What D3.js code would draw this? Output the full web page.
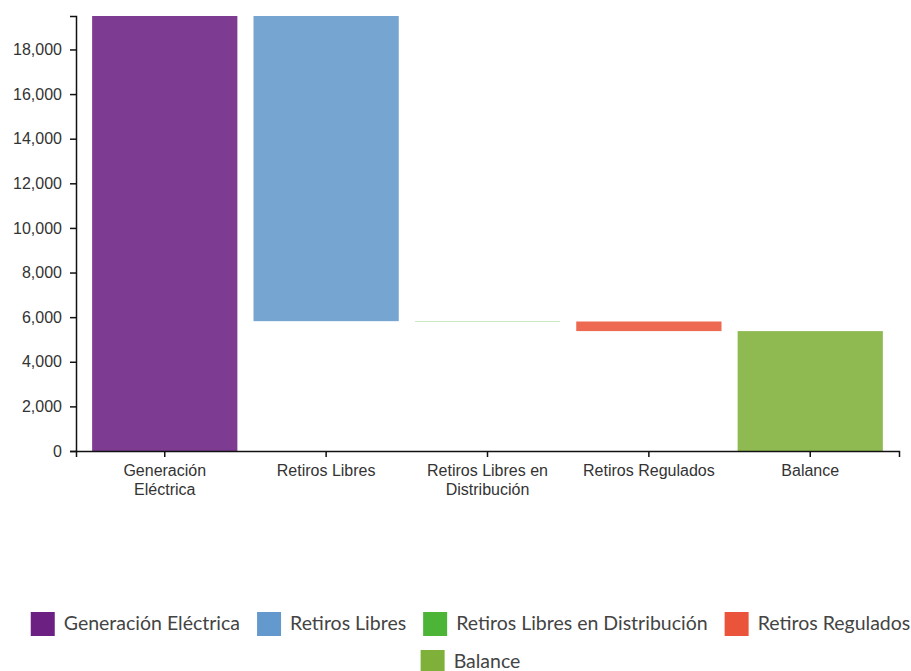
<!DOCTYPE html>
<html>
<head>
<meta charset="utf-8">
<script src="https://cdn.jsdelivr.net/npm/d3@7"></script>
<style>
  html, body { margin: 0; padding: 0; background: #fff; }
  svg { display: block; }
  .axis text { font-family: Arial, "Liberation Sans", sans-serif; font-size: 16px; fill: #333; }
  .axis path, .axis line { stroke: #111; stroke-width: 1.5; }
  .legend text { font-family: Lato, sans-serif; font-size: 19.5px; fill: #444; }
</style>
</head>
<body>
<div id="chart"></div>
<script>
// Energy balance waterfall (GWh)
const categories = ["Generación Eléctrica", "Retiros Libres", "Retiros Libres en Distribución", "Retiros Regulados", "Balance"];
const values = [19500, -13680, -15, -430, 5375];
const isTotal = [false, false, false, false, true];
const colors = ["#6b2082", "#6399cc", "#4cb538", "#ea543a", "#7fb13a"];
const yTicks = [0, 2000, 4000, 6000, 8000, 10000, 12000, 14000, 16000, 18000];

const W = 911, H = 671;
const margin = { top: 16, right: 12, bottom: 220, left: 76 };
const innerW = 899 - margin.left;
const innerH = 451 - margin.top;

// running totals for the waterfall steps
let run = 0;
const steps = categories.map((c, i) => {
  let start, end;
  if (isTotal[i]) { start = 0; end = values[i]; run = values[i]; }
  else { start = run; end = run + values[i]; run = end; }
  return { name: c, start, end, color: colors[i] };
});

const svg = d3.select("#chart").append("svg").attr("width", W).attr("height", H);
const g = svg.append("g").attr("transform", `translate(${margin.left},${margin.top})`);

const x = d3.scaleBand().domain(categories).range([0, innerW]).padding(0.1);
const y = d3.scaleLinear().domain([0, d3.max(steps, d => Math.max(d.start, d.end))]).range([innerH, 0]);

g.selectAll("rect.bar").data(steps).join("rect")
  .attr("class", "bar")
  .attr("x", d => x(d.name))
  .attr("width", x.bandwidth())
  .attr("y", d => y(Math.max(d.start, d.end)))
  .attr("height", d => Math.abs(y(d.start) - y(d.end)))
  .attr("fill", d => d.color)
  .attr("fill-opacity", 0.88);

// y axis
g.append("g").attr("class", "axis")
  .call(d3.axisLeft(y).tickValues(yTicks).tickSize(6).tickPadding(8).tickFormat(d3.format(",")));

// x axis with wrapped labels
const xAxis = g.append("g").attr("class", "axis")
  .attr("transform", `translate(0,${innerH})`)
  .call(d3.axisBottom(x).tickSize(6).tickPadding(8));

function wrap(text, width) {
  text.each(function () {
    const t = d3.select(this);
    const words = t.text().split(/\s+/);
    const yy = t.attr("y");
    const dy = parseFloat(t.attr("dy"));
    t.text(null);
    let line = [];
    let lineNo = 0;
    let tspan = t.append("tspan").attr("x", 0).attr("y", yy).attr("dy", dy + "em");
    for (const w of words) {
      line.push(w);
      tspan.text(line.join(" "));
      if (tspan.node().getComputedTextLength() > width && line.length > 1) {
        line.pop();
        tspan.text(line.join(" "));
        line = [w];
        lineNo++;
        tspan = t.append("tspan").attr("x", 0).attr("y", yy)
          .attr("dy", (lineNo * 1.15 + dy) + "em").text(w);
      }
    }
  });
}
xAxis.selectAll(".tick text").call(wrap, 140);

// legend, wrapped into centered rows
const legend = svg.append("g").attr("class", "legend");
const sw = 24, gapText = 9, gapItem = 17, rowH = 38, maxRowW = 895, centerX = 470.5, top0 = 612;
const items = categories.map((c, i) => {
  const it = legend.append("g");
  it.append("rect").attr("width", sw).attr("height", sw).attr("fill", colors[i]);
  const tx = it.append("text").attr("x", sw + gapText).attr("y", 18).text(c);
  return { g: it, w: sw + gapText + tx.node().getComputedTextLength() };
});
const rows = [[]];
let rowW = 0;
items.forEach(it => {
  const add = (rows[rows.length - 1].length ? gapItem : 0) + it.w;
  if (rowW + add > maxRowW && rows[rows.length - 1].length) { rows.push([it]); rowW = it.w; }
  else { rows[rows.length - 1].push(it); rowW += add; }
});
rows.forEach((row, r) => {
  const total = d3.sum(row, d => d.w) + gapItem * (row.length - 1);
  let cx = centerX - total / 2;
  row.forEach(it => {
    it.g.attr("transform", `translate(${cx},${top0 + r * rowH})`);
    cx += it.w + gapItem;
  });
});
</script>
</body>
</html>
